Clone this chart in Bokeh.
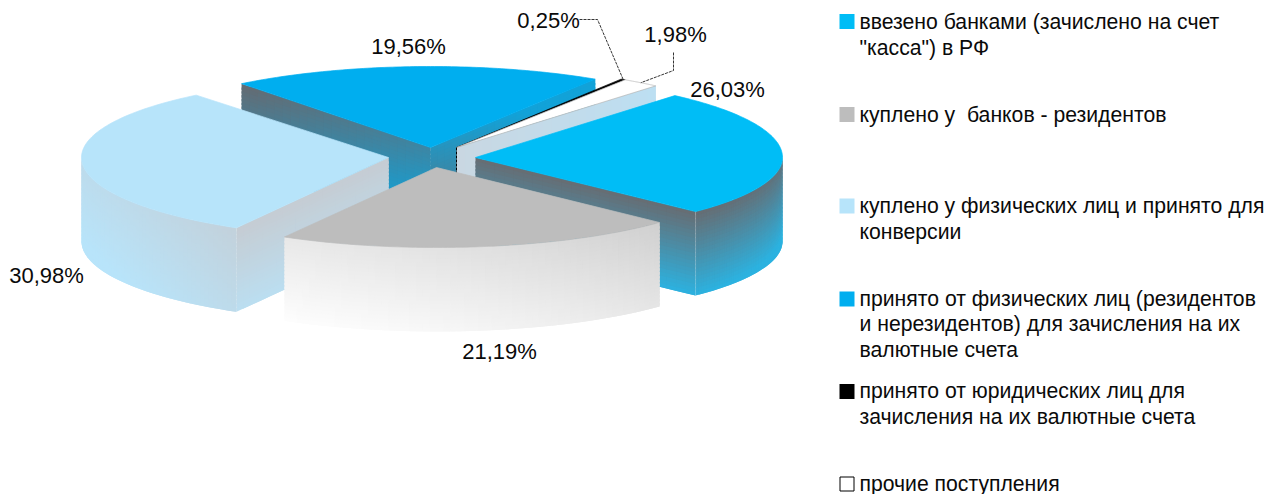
import numpy as np
from bokeh.plotting import figure
from bokeh.models import Range1d
from bokeh.core.properties import value
from bokeh.embed import file_html
from bokeh.resources import INLINE

# ---- data ----
shares = [26.03, 21.19, 30.98, 19.56, 0.25, 1.98]
legend_labels = [
    'ввезено банками (зачислено на счет\n"касса") в РФ',
    "куплено у\u00a0 банков - резидентов",
    "куплено у физических лиц и принято для\nконверсии",
    "принято от физических лиц (резидентов\nи нерезидентов) для зачисления на их\nвалютные счета",
    "принято от юридических лиц для\nзачисления на их валютные счета",
    "прочие поступления",
]
top_colors = ["#00bdf6", "#bdbdbd", "#b7e4fa", "#00aeef", "#000000", "#ffffff"]

# ---- layout ----
FONT = "Liberation Sans"
RX, DEPTH = 307.0, 84.0
RY_BACK = [81.4, 81.0, 80.0, 81.0, 81.0, 81.0]
RY_FRONT = [77.6, 80.0, 81.0, 81.0, 81.0, 81.0]
START = -49.5
apex_x = [475, 436, 388, 430, 456, 456]
apex_y = [157, 167, 157, 147, 147, 147]
turn = [0.0, -0.8, -0.8, 0.0, 0.0, 0.0]
pct_x = [727, 499, 46, 408, 548, 675]
pct_y = [89, 351, 275, 46, 20, 34]
legend_line_y = [[21, 46.5], [113.5], [204.5, 230.5], [297.5, 323, 348.5], [389.5, 415.5], [482.5]]
legend_box_y = [21, 114, 205.5, 298.5, 391, 483.5]

p = figure(width=1265, height=494, output_backend="svg", toolbar_location=None,
           x_range=Range1d(0, 1265), y_range=Range1d(494, 0),
           min_border=0, outline_line_color=None, background_fill_color="white",
           border_fill_color="white")
p.axis.visible = False
p.grid.visible = False

edges = START + np.concatenate([[0], np.cumsum(shares)]) * 3.6


def pt(i, deg):
    a = np.radians(np.asarray(deg, float) + turn[i])
    s = np.sin(a)
    return apex_x[i] + RX * np.cos(a), apex_y[i] + np.where(s < 0, RY_BACK[i], RY_FRONT[i]) * s


def arc(i, a0, a1, n=60):
    xs, ys = pt(i, np.linspace(a0, a1, n))
    return xs, ys


def apex_to(i, deg, n=24):
    ex, ey = pt(i, deg)
    return np.linspace(apex_x[i], float(ex), n), np.linspace(apex_y[i], float(ey), n)


def hexrgb(h):
    return np.array([int(h[k:k + 2], 16) for k in (1, 3, 5)], float)


def wall(px, py, c0, c1, tfun, rows=22):
    """Gradient wall painted in overlapping cells so no seams show."""
    c0, c1 = hexrgb(c0), hexrgb(c1)
    xs, ys, cols = [], [], []
    n = len(px)
    for j in range(n - 1):
        k = min(j + 2, n - 1)
        for r in range(rows):
            v0, v1 = r / rows, min((r + 1.6) / rows, 1.0)
            cell_x = [px[j], px[k], px[k], px[j]]
            cell_y = [py[j] + v0 * DEPTH, py[k] + v0 * DEPTH, py[k] + v1 * DEPTH, py[j] + v1 * DEPTH]
            mx = (px[j] + px[j + 1]) / 2
            my = (py[j] + py[j + 1]) / 2 + (r + .5) / rows * DEPTH
            t = float(np.clip(tfun(mx, my, (j + .5) / (n - 1), (r + .5) / rows), 0, 1))
            rgb = (c0 + (c1 - c0) * t).round().astype(int)
            xs.append(cell_x)
            ys.append(cell_y)
            cols.append("#%02x%02x%02x" % tuple(rgb))
    p.patches(xs, ys, fill_color=cols, line_color=None)


def top(i, line=None):
    xs, ys = arc(i, edges[i], edges[i + 1], 90)
    p.patch(np.r_[apex_x[i], xs], np.r_[apex_y[i], ys], fill_color=top_colors[i],
            line_color=line or top_colors[i], line_width=0.7)


def seam(i, deg, color="#ffffff", alpha=0.3):
    x, y = pt(i, deg)
    p.segment([float(x)], [float(y)], [float(x)], [float(y) + DEPTH], line_color=color,
              line_alpha=alpha, line_width=0.8)


# slice 4 (back left)
px0, py0 = apex_to(3, edges[3])
wall(px0[::-1], py0[::-1], "#666a70", "#12a2d8", lambda x, y, u, v: 0.5 * u + 0.7 * v)
px1, py1 = apex_to(3, edges[4])
wall(px1, py1, "#666a70", "#12a2d8", lambda x, y, u, v: 0.75 + 0.5 * u - 0.7 * v)
top(3)
# slice 5, slice 6 (thin ones)
top(4)
px6, py6 = apex_to(5, edges[6])
wall(px6, py6, "#c9d7e2", "#bcdff2", lambda x, y, u, v: u, rows=6)
top(5, "#b5b5b5")
p.segment([apex_x[4]], [apex_y[4]], [apex_x[4]], [apex_y[4] + 30], line_color="black",
          line_width=1, line_dash="3 1")
# slice 1 (right)
cx, cy = apex_to(0, edges[1])
wall(cx, cy, "#676c72", "#2cb2e0", lambda x, y, u, v: v * 1.0)
ax, ay = arc(0, edges[1], -1)
wall(ax, ay, "#676c72", "#2cb2e0", lambda x, y, u, v: v + 0.14 * u)
seam(0, edges[1])
top(0)
# slice 3 (left)
cx, cy = apex_to(2, edges[2])
wall(cx[::-1], cy[::-1], "#b8e4fa", "#c6cbd1", lambda x, y, u, v: 0.95 - 0.72 * v)
ax, ay = arc(2, 180.8, edges[2])
wall(ax, ay, "#b8e4fa", "#c6cbd1", lambda x, y, u, v: 0.0045 * (x - 81) + 0.0045 * (240 - y))
seam(2, edges[2], alpha=0.15)
top(2)
# slice 2 (front)
ax, ay = arc(1, edges[2], edges[1])
wall(ax, ay, "#fdfdfd", "#c6c6c6", lambda x, y, u, v: 0.001 * (x - 285) + 0.0046 * (320 - y))
top(1)

# leaders
ex5, ey5 = pt(4, (edges[4] + edges[5]) / 2)
ex6, ey6 = pt(5, (edges[5] + edges[6]) / 2)
p.line([579, 597, float(ex5)], [19, 19, float(ey5)], line_color="#000000", line_width=0.8, line_dash="3 1")
p.line([673, 673, float(ex6)], [52, 70, float(ey6)], line_color="#000000", line_width=0.8, line_dash="3 1")

# percent labels
pct_text = [f"{v:.2f}".replace(".", ",") + "%" for v in shares]
p.text(pct_x, pct_y, text=pct_text, text_font=value(FONT), text_font_size="22px",
       text_align="center", text_baseline="middle", text_color="#0a0a0a")

# legend
for i, lab in enumerate(legend_labels):
    outlined = i == 5
    p.rect([846.5], [legend_box_y[i]], width=14 if outlined else 15, height=14 if outlined else 15,
           fill_color=top_colors[i], line_color="#000000" if outlined else top_colors[i],
           line_width=1 if outlined else 0)
    lines = lab.split("\n")
    p.text([859] * len(lines), legend_line_y[i], text=lines, text_font=value(FONT),
           text_font_size="21.2px", text_align="left", text_baseline="middle", text_color="#0a0a0a")

open("out.html", "w").write(file_html(p, INLINE))
